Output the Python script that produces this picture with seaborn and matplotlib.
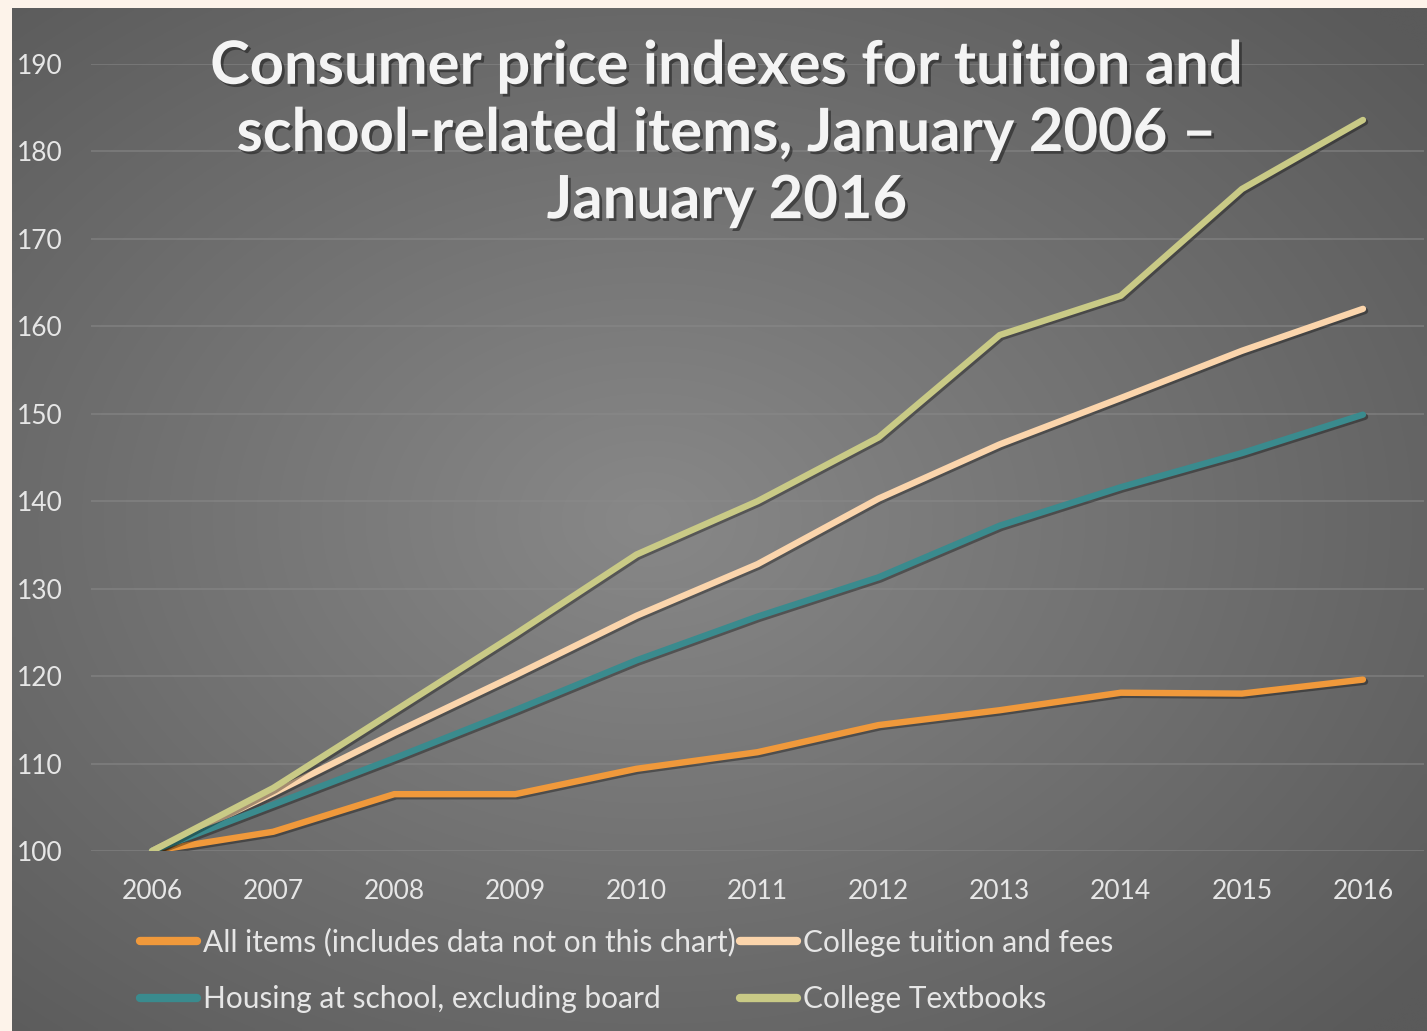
import numpy as np
import pandas as pd
import matplotlib
matplotlib.use("Agg")
import matplotlib.pyplot as plt
import matplotlib.patheffects as pe
from matplotlib.lines import Line2D
import seaborn as sns

years = [2006, 2007, 2008, 2009, 2010, 2011, 2012, 2013, 2014, 2015, 2016]
all_items = [100, 102.2, 106.5, 106.5, 109.4, 111.3, 114.4, 116.1, 118.1, 118.0, 119.6]
tuition = [100, 106.6, 113.5, 120.1, 126.9, 132.8, 140.3, 146.5, 151.8, 157.2, 162.0]
housing = [100, 105.3, 110.6, 116.1, 121.8, 126.8, 131.3, 137.2, 141.6, 145.5, 149.9]
textbooks = [100, 107.2, 116.0, 124.8, 133.9, 140.0, 147.3, 159.0, 163.5, 175.7, 183.6]

series_names = ["All items (includes data not on this chart)",
                "College tuition and fees",
                "Housing at school, excluding board",
                "College Textbooks"]
colors = ["#F0993B", "#FBD5AC", "#3A8B8E", "#C9CA86"]
yticks = [100, 110, 120, 130, 140, 150, 160, 170, 180, 190]
title = "Consumer price indexes for tuition and\nschool-related items, January 2006 –\nJanuary 2016"

df = pd.DataFrame({
    "year": years * 4,
    "value": all_items + tuition + housing + textbooks,
    "series": sum([[n] * len(years) for n in series_names], []),
})

sns.set_theme(style="white")
plt.rcParams["font.family"] = ["Lato", "DejaVu Sans"]

W, H = 1427, 1031
fig = plt.figure(figsize=(W / 100, H / 100), dpi=100)
fig.patch.set_facecolor("#FDF3EA")

# gradient background panel
bg = fig.add_axes([12 / W, 0, 1 - 12 / W, 1 - 8 / H])
bg.set_axis_off()
yy, xx = np.mgrid[0:1:200j, 0:1:200j]
r = np.sqrt(((xx - 0.45) / 0.75) ** 2 + ((yy - 0.5) / 0.75) ** 2)
r = np.clip(r / 0.95, 0, 1)
c0, c1 = np.array([0x88, 0x88, 0x88]) / 255, np.array([0x5a, 0x5a, 0x5a]) / 255
img = c0[None, None, :] * (1 - r[..., None]) + c1[None, None, :] * r[..., None]
bg.imshow(img, extent=[0, 1, 0, 1], aspect="auto", interpolation="bilinear")
bg.set_xlim(0, 1)
bg.set_ylim(0, 1)

ax = fig.add_axes([91.5 / W, 180 / H, (1423.5 - 91.5) / W, (851 - 64) / H])
ax.patch.set_alpha(0)

sns.lineplot(data=df, x="year", y="value", hue="series", hue_order=series_names,
             palette=colors, linewidth=4.6, ax=ax, legend=False, sort=False,
             solid_capstyle="round", solid_joinstyle="round")
for ln in ax.lines:
    ln.set_path_effects([pe.SimpleLineShadow(offset=(1.5, -1.5), shadow_color="#000000", alpha=0.35),
                         pe.Normal()])
    ln.set_zorder(3)

ax.set_xlim(2005.5, 2016.5)
ax.set_ylim(100, 190)
ax.set_yticks(yticks)
ax.set_xticks(years)
ax.set_xticklabels([str(y) for y in years])
ax.yaxis.grid(True, color="#8a8a8a", linewidth=1.2, alpha=0.6)
ax.set_axisbelow(True)
for s in ax.spines.values():
    s.set_visible(False)
ax.tick_params(axis="both", length=0, labelsize=19, colors="#E6E6E6")
ax.tick_params(axis="x", pad=20)
for lab in ax.get_yticklabels():
    lab.set_horizontalalignment("left")
ax.yaxis.set_tick_params(pad=54)
ax.set_xlabel("")
ax.set_ylabel("")

fig.text(727 / W, 1 - 134 / H, title, ha="center", va="center", fontsize=43,
         fontweight="bold", color="#F4F4F4", linespacing=1.3,
         path_effects=[pe.withSimplePatchShadow(offset=(2, -2), shadow_rgbFace="#222222", alpha=0.6)])

order = [0, 2, 1, 3]
handles = [Line2D([0], [0], color=colors[i], linewidth=6, solid_capstyle="round") for i in order]
labels = [series_names[i] for i in order]
leg = fig.legend(handles, labels, loc="upper left", bbox_to_anchor=(128 / W, 1 - 916 / H),
                 ncol=2, frameon=False, fontsize=21.5, labelcolor="#E6E6E6",
                 handlelength=1.9, handletextpad=0.2, columnspacing=0.15, labelspacing=0.95,
                 borderaxespad=0)

fig.savefig("out.png", dpi=100, facecolor=fig.get_facecolor())
